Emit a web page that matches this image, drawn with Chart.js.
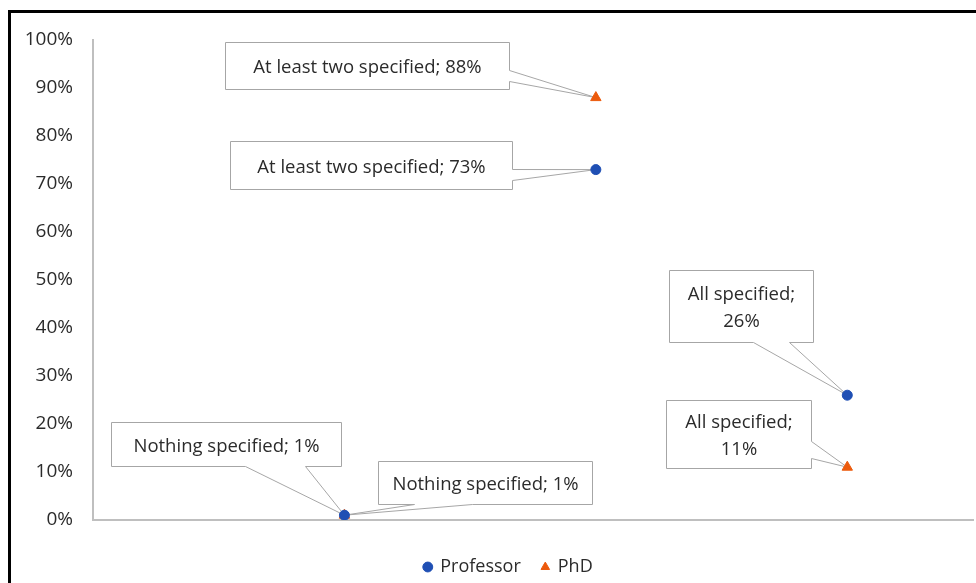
<!DOCTYPE html>
<html>
<head>
<meta charset="utf-8">
<script src="https://cdn.jsdelivr.net/npm/chart.js@4.4.1/dist/chart.umd.min.js"></script>
<style>
  html, body { margin: 0; padding: 0; background: #fff; }
  #wrap { position: relative; width: 976px; height: 583px; overflow: hidden; }
  #frame { position: absolute; left: 8px; top: 10px; width: 2000px; height: 2000px;
           border-left: 3px solid #000; border-top: 3px solid #000; pointer-events: none; }
</style>
</head>
<body>
<div id="wrap">
  <canvas id="c" width="976" height="583"></canvas>
  <div id="frame"></div>
</div>
<script>
// Categories sit at x = 1, 2, 3 on a hidden horizontal axis
const categories = ['Nothing specified', 'At least two specified', 'All specified'];
const xPositions = [1, 2, 3];
const professorValues = [1, 73, 26];   // percent
const phdValues = [1, 88, 11];         // percent
const yTicks = [0, 10, 20, 30, 40, 50, 60, 70, 80, 90, 100];

// Callout boxes: offset of the box from its point, box size, side carrying the pointer
// and the pointer base along that side (px from the box corner); wrap = two-line text
const professorCallouts = [
  { dx: -233, dy: -93, w: 230, h: 44, side: 'bottom', a: 134, b: 194, wrap: false },
  { dx: -366, dy: -29, w: 282, h: 48, side: 'right', a: 28, b: 39, wrap: false },
  { dx: -178, dy: -125, w: 144, h: 72, side: 'bottom', a: 84, b: 120, wrap: true }
];
const phdCallouts = [
  { dx: 34, dy: -54, w: 214, h: 43, side: 'bottom', a: 36, b: 94, wrap: false },
  { dx: -371, dy: -56, w: 284, h: 47, side: 'right', a: 28, b: 39, wrap: false },
  { dx: -181, dy: -67, w: 145, h: 68, side: 'right', a: 41, b: 58, wrap: true }
];

const FONT = '"Open Sans", "Noto Sans", sans-serif';
const TEXT = '#2b2b2b';
const LEGEND_SHIFT = { x: 22, y: 3 };

function toPoints(values) {
  return values.map((v, i) => ({ x: xPositions[i], y: v / 100 }));
}

// Draws Excel-style callouts (box + pointer) for every point
const calloutPlugin = {
  id: 'callouts',
  beforeDatasetsDraw(chart) {
    const ctx = chart.ctx;
    const layouts = [professorCallouts, phdCallouts];
    chart.data.datasets.forEach((ds, di) => {
      const meta = chart.getDatasetMeta(di);
      meta.data.forEach((el, i) => {
        const L = layouts[di][i];
        const px = el.x, py = el.y;
        const x0 = Math.round(px + L.dx) + 0.5, y0 = Math.round(py + L.dy) + 0.5;
        const x1 = x0 + L.w, y1 = y0 + L.h;
        ctx.save();
        ctx.beginPath();
        ctx.moveTo(x0, y0);
        ctx.lineTo(x1, y0);
        if (L.side === 'right') {
          ctx.lineTo(x1, y0 + L.a);
          ctx.lineTo(px, py);
          ctx.lineTo(x1, y0 + L.b);
        }
        ctx.lineTo(x1, y1);
        if (L.side === 'bottom') {
          ctx.lineTo(x0 + L.b, y1);
          ctx.lineTo(px, py);
          ctx.lineTo(x0 + L.a, y1);
        }
        ctx.lineTo(x0, y1);
        ctx.closePath();
        ctx.fillStyle = '#ffffff';
        ctx.fill();
        ctx.strokeStyle = '#a6a6a6';
        ctx.lineWidth = 1;
        ctx.stroke();

        const value = ds.data[i].y * 100;
        const label = categories[i] + ';';
        ctx.fillStyle = TEXT;
        ctx.font = '18.5px ' + FONT;
        ctx.textAlign = 'center';
        ctx.textBaseline = 'middle';
        const cx = (x0 + x1) / 2, cy = (y0 + y1) / 2;
        if (L.wrap) {
          ctx.fillText(label, cx, cy - 12);
          ctx.fillText(Math.round(value) + '%', cx, cy + 15);
        } else {
          ctx.fillText(label + ' ' + Math.round(value) + '%', cx, cy + 2);
        }
        ctx.restore();
      });
    });
  }
};

// Nudges the legend off the canvas centre line
const legendOffsetPlugin = {
  id: 'legendOffset',
  afterLayout(chart) {
    const lg = chart.legend;
    if (!lg) return;
    lg.left += LEGEND_SHIFT.x; lg.right += LEGEND_SHIFT.x;
    lg.top += LEGEND_SHIFT.y; lg.bottom += LEGEND_SHIFT.y;
  }
};

new Chart(document.getElementById('c'), {
  type: 'scatter',
  data: {
    datasets: [
      {
        label: 'Professor',
        data: toPoints(professorValues),
        pointStyle: 'circle',
        pointRadius: 5,
        backgroundColor: '#1f4fb4',
        borderColor: '#1f4fb4',
        borderWidth: 1
      },
      {
        label: 'PhD',
        data: toPoints(phdValues),
        pointStyle: 'triangle',
        pointRadius: 6,
        backgroundColor: '#ec5a0c',
        borderColor: '#ec5a0c',
        borderWidth: 1
      }
    ]
  },
  options: {
    responsive: false,
    animation: false,
    events: [],
    layout: { autoPadding: false, padding: { top: 40, right: 3, left: 0, bottom: 0 } },
    scales: {
      x: {
        type: 'linear',
        min: 0,
        max: 3.5,
        grid: { display: false, drawTicks: false },
        border: { display: true, color: '#bfbfbf', width: 2 },
        ticks: { display: false },
        afterFit(s) { s.height = 14; }
      },
      y: {
        type: 'linear',
        min: 0,
        max: 1,
        afterBuildTicks(s) { s.ticks = yTicks.map(v => ({ value: v / 100 })); },
        grid: { display: false, drawTicks: false },
        border: { display: true, color: '#bfbfbf', width: 2 },
        ticks: {
          padding: 20,
          color: TEXT,
          font: { family: FONT, size: 19 },
          callback: v => Math.round(v * 100) + '%'
        },
        afterFit(s) { s.width = 93; }
      }
    },
    plugins: {
      tooltip: { enabled: false },
      legend: {
        position: 'bottom',
        labels: {
          usePointStyle: true,
          boxWidth: 7,
          boxHeight: 7,
          padding: 21,
          color: TEXT,
          font: { family: FONT, size: 18 }
        }
      }
    }
  },
  plugins: [calloutPlugin, legendOffsetPlugin]
});
</script>
</body>
</html>
